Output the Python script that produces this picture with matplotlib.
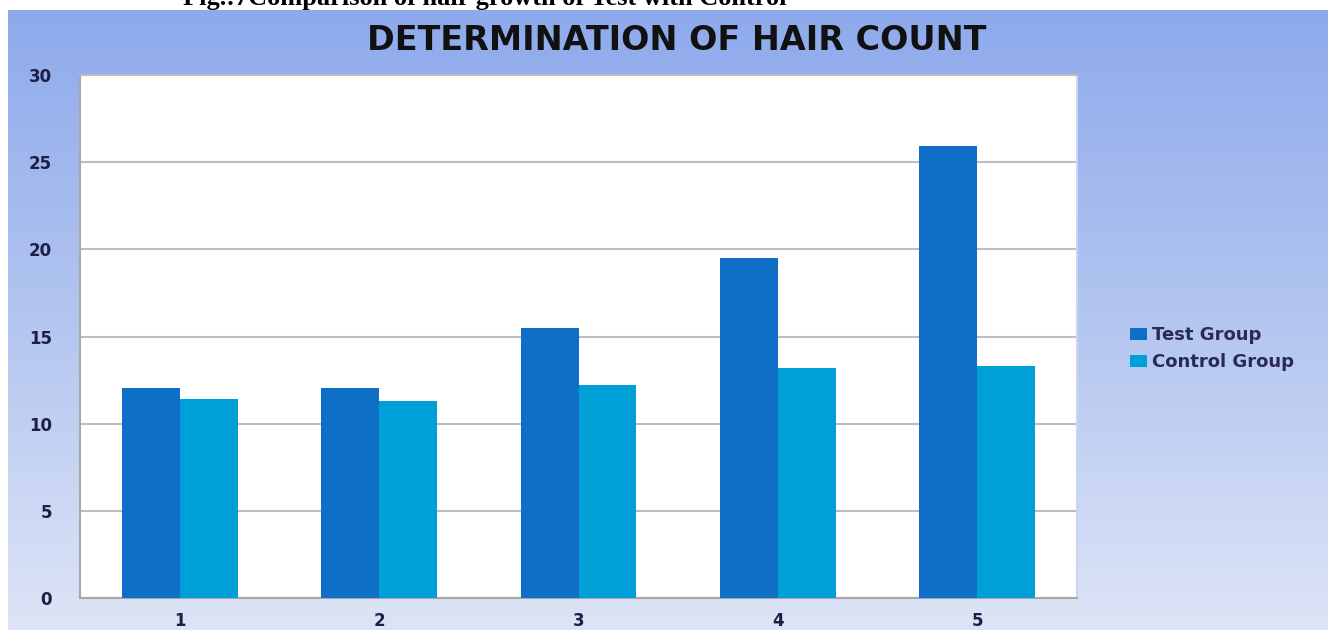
import numpy as np
import matplotlib
matplotlib.use("Agg")
import matplotlib.pyplot as plt
from matplotlib.colors import LinearSegmentedColormap

categories = ["1", "2", "3", "4", "5"]
test_group = [12.05, 12.05, 15.5, 19.5, 25.9]
control_group = [11.4, 11.3, 12.2, 13.2, 13.3]
y_ticks = [0, 5, 10, 15, 20, 25, 30]

W, H = 1328, 630
fig = plt.figure(figsize=(W / 100, H / 100), dpi=100)
fig.patch.set_facecolor("white")

# blue gradient panel behind the chart
bg = fig.add_axes([8 / W, 0, 1 - 8 / W, (H - 10) / H])
cmap = LinearSegmentedColormap.from_list("panel", ["#8eaaec", "#b3c6f0", "#dde4f6"])
grad = np.linspace(0, 1, 256).reshape(-1, 1)
bg.imshow(grad, aspect="auto", cmap=cmap, extent=[0, 1, 0, 1], origin="upper")
bg.set_axis_off()

# caption running off the top edge
fig.text(183 / W, 1 + 1 / H, "Fig.:7Comparison of hair growth of Test with Control",
         family="Liberation Serif", weight="bold", fontsize=19, color="black",
         ha="left", va="center")

ax = fig.add_axes([80 / W, (H - 598) / H, (1077 - 80) / W, (598 - 75) / H])
ax.set_facecolor("white")

x = np.arange(len(categories))
width = 0.29
ax.bar(x - width / 2, test_group, width, color="#0f6ec6", label="Test Group", zorder=3)
ax.bar(x + width / 2, control_group, width, color="#019fd8", label="Control Group", zorder=3)

ax.set_xlim(-0.5, len(categories) - 0.5)
ax.set_ylim(0, 30)
ax.set_yticks(y_ticks)
ax.set_xticks(x)
ax.set_xticklabels(categories)
ax.yaxis.grid(True, color="#bdbdbd", linewidth=1.5, zorder=0)
ax.tick_params(axis="both", length=0, labelsize=12, labelcolor="#1f1f45")
ax.tick_params(axis="y", pad=20)
ax.tick_params(axis="x", pad=10)
for lbl in ax.get_xticklabels() + ax.get_yticklabels():
    lbl.set_fontweight("bold")

ax.spines["right"].set_color("#c9d6f3")
ax.spines["top"].set_color("#bdbdbd")
ax.spines["left"].set_color("#a8a8a8")
ax.spines["bottom"].set_color("#a8a8a8")
for s in ax.spines.values():
    s.set_linewidth(1.5)

fig.text(677 / W, 1 - 40 / H, "DETERMINATION OF HAIR COUNT", fontsize=24,
         weight="bold", color="#111111", ha="center", va="center")

leg = fig.legend(loc="upper left", bbox_to_anchor=(1114 / W, 1 - 310 / H),
                 frameon=False, prop={"size": 13, "weight": "bold"},
                 handlelength=0.9, handleheight=0.6,
                 handletextpad=0.3, labelspacing=0.5)
for t in leg.get_texts():
    t.set_color("#2a2a55")

fig.savefig("out.png", dpi=100)
